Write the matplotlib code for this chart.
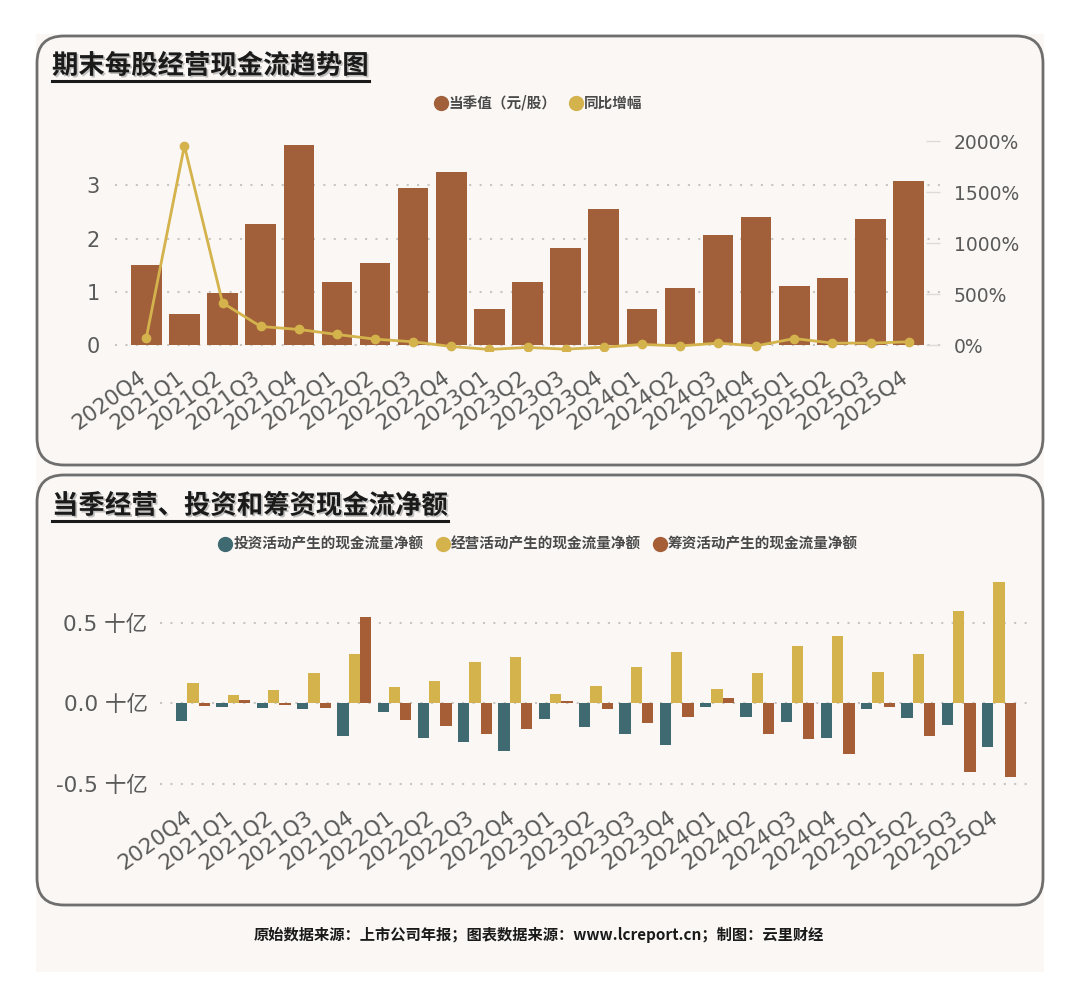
import matplotlib
matplotlib.use("Agg")
import matplotlib.pyplot as plt
import numpy as np
from matplotlib.patches import FancyBboxPatch, Rectangle
from matplotlib.lines import Line2D
import matplotlib.patheffects as pe
import matplotlib.transforms as mtransforms

plt.rcParams['font.family'] = ['DejaVu Sans', 'Noto Sans CJK SC']

quarters = ['2020Q4', '2021Q1', '2021Q2', '2021Q3', '2021Q4', '2022Q1', '2022Q2',
            '2022Q3', '2022Q4', '2023Q1', '2023Q2', '2023Q3', '2023Q4', '2024Q1',
            '2024Q2', '2024Q3', '2024Q4', '2025Q1', '2025Q2', '2025Q3', '2025Q4']

eps = [1.50, 0.58, 0.98, 2.28, 3.75, 1.18, 1.54, 2.95, 3.25, 0.68, 1.18,
       1.83, 2.56, 0.68, 1.08, 2.06, 2.40, 1.11, 1.26, 2.36, 3.08]
yoy = [70, 1954, 415, 183, 154, 105, 59, 33, -13, -42, -22,
       -39, -20, 7, -7, 20, -7, 65, 20, 20, 33]

invest = [-0.108, -0.021, -0.031, -0.033, -0.201, -0.056, -0.216, -0.241, -0.297, -0.100, -0.145,
          -0.191, -0.261, -0.025, -0.083, -0.116, -0.216, -0.035, -0.089, -0.133, -0.270]
operate = [0.124, 0.052, 0.083, 0.189, 0.307, 0.104, 0.139, 0.257, 0.288, 0.060, 0.108,
           0.228, 0.320, 0.087, 0.189, 0.357, 0.419, 0.195, 0.307, 0.575, 0.755]
finance = [-0.017, 0.021, -0.008, -0.029, 0.539, -0.104, -0.143, -0.191, -0.160, 0.015, -0.037,
           -0.120, -0.085, 0.031, -0.193, -0.220, -0.317, -0.025, -0.205, -0.429, -0.456]

left_ticks = [0, 1, 2, 3]
right_ticks = [0, 500, 1000, 1500, 2000]
right_labels = ['0%', '500%', '1000%', '1500%', '2000%']
bottom_ticks = [-0.5, 0.0, 0.5]
bottom_labels = ['-0.5 十亿', '0.0 十亿', '0.5 十亿']

title1 = '期末每股经营现金流趋势图'
title2 = '当季经营、投资和筹资现金流净额'
legend1 = ['当季值（元/股）', '同比增幅']
legend2 = ['投资活动产生的现金流量净额', '经营活动产生的现金流量净额', '筹资活动产生的现金流量净额']
footer = '原始数据来源：上市公司年报；图表数据来源：www.lcreport.cn；制图：云里财经'

BROWN = '#A1603A'
YELLOW = '#D4B24C'
TEAL = '#3F6A72'
ORANGE = '#A65E37'
BG = '#FAF7F4'
GRID = '#C9C6C2'
TXT = '#5A5A5A'

W, H = 10.8, 10.07
fig = plt.figure(figsize=(W, H), dpi=100, facecolor='white')

# background region and panels (in inches)
fig.patches.append(Rectangle((0.36, H - 9.72), 10.44 - 0.36, 9.72 - 0.34,
                             transform=fig.dpi_scale_trans, facecolor=BG, edgecolor='none', zorder=-3))
for (y0, y1) in [(0.36, 4.65), (4.75, 9.05)]:
    fig.patches.append(FancyBboxPatch((0.37, H - y1), 10.43 - 0.37, y1 - y0,
                                      boxstyle='round,pad=0,rounding_size=0.27',
                                      transform=fig.dpi_scale_trans, facecolor=BG,
                                      edgecolor='#6E6E6E', linewidth=2, zorder=-2))

x = np.arange(len(quarters))
cjk = ['Noto Sans CJK SC', 'DejaVu Sans']
label_shift = mtransforms.ScaledTranslation(-0.09, 0, fig.dpi_scale_trans)

# ---------- top chart ----------
ax1 = fig.add_axes([115 / 1080, 1 - 350.5 / 1007, 825 / 1080, 209.5 / 1007])
ax1.set_facecolor('none')
ax1.bar(x, eps, width=0.8, color=BROWN, zorder=3)
ax1.set_xlim(-0.82, len(quarters) - 1 + 0.82)
ax1.set_ylim(-0.1, 3.83)
ax1.set_yticks(left_ticks)
ax1.set_yticklabels([str(t) for t in left_ticks])
ax1.grid(axis='y', color=GRID, linestyle=(0, (1, 4)), linewidth=1.5, zorder=0)
ax1.set_xticks(x)
ax1.set_xticklabels(quarters, rotation=36, ha='right', va='top', rotation_mode='anchor')
ax1.tick_params(axis='both', length=0, labelcolor=TXT)
ax1.tick_params(axis='y', pad=11, labelsize=15)
ax1.tick_params(axis='x', pad=11.5, labelsize=15.5)
for lab in ax1.get_xticklabels():
    lab.set_transform(lab.get_transform() + label_shift)
for s in ax1.spines.values():
    s.set_visible(False)

ax2 = ax1.twinx()
ax2.plot(x, yoy, color=YELLOW, linewidth=2, marker='o', markersize=6, zorder=4)
ax2.set_ylim(-0.1 / 3.83 * 2000, 2000)
ax2.set_yticks(right_ticks)
ax2.set_yticklabels(right_labels)
ax2.tick_params(axis='y', direction='in', length=10, width=1.0, color='#DEDAD6',
                labelsize=13.5, labelcolor=TXT, pad=10)
for s in ax2.spines.values():
    s.set_visible(False)

# ---------- bottom chart ----------
ax3 = fig.add_axes([160 / 1080, 1 - 791.7 / 1007, 870 / 1080, 217 / 1007])
ax3.set_facecolor('none')
bw = 0.28
ax3.bar(x - bw, invest, width=bw, color=TEAL, zorder=3)
ax3.bar(x, operate, width=bw, color=YELLOW, zorder=3)
ax3.bar(x + bw, finance, width=bw, color=ORANGE, zorder=3)
ax3.set_xlim(-0.82, len(quarters) - 1 + 0.77)
ax3.set_ylim(-0.55, 0.8)
ax3.set_yticks(bottom_ticks)
ax3.set_yticklabels(bottom_labels)
ax3.grid(axis='y', color=GRID, linestyle=(0, (1, 4)), linewidth=1.5, zorder=0)
ax3.set_xticks(x)
ax3.set_xticklabels(quarters, rotation=36, ha='right', va='top', rotation_mode='anchor')
ax3.tick_params(axis='both', length=0, labelcolor=TXT)
ax3.tick_params(axis='y', pad=9, labelsize=15.5)
ax3.tick_params(axis='x', pad=11, labelsize=15.5)
for lab in ax3.get_xticklabels():
    lab.set_transform(lab.get_transform() + label_shift)
for s in ax3.spines.values():
    s.set_visible(False)

# ---------- titles ----------
titles = []
for t, ypix in [(title1, 66), (title2, 506)]:
    tt = fig.text(52 / 1080, 1 - ypix / 1007, t, fontsize=19, fontweight='heavy',
                  family=cjk, color='#1A1A1A', ha='left', va='center',
                  path_effects=[pe.withSimplePatchShadow(offset=(1.2, -1.2), shadow_rgbFace='#888888', alpha=0.5)])
    titles.append(tt)

# ---------- legends ----------
h1 = [Line2D([], [], linestyle='none', marker='o', markersize=10, color=BROWN),
      Line2D([], [], linestyle='none', marker='o', markersize=10, color=YELLOW)]
fig.legend(h1, legend1, loc='center', bbox_to_anchor=(538 / 1080, 1 - 103 / 1007),
           ncol=2, frameon=False, handletextpad=0.05, columnspacing=0.8, handlelength=1.0,
           prop={'family': cjk, 'size': 10.5, 'weight': 'bold'}, labelcolor='#4A4A4A')
h2 = [Line2D([], [], linestyle='none', marker='o', markersize=10, color=c) for c in (TEAL, YELLOW, ORANGE)]
fig.legend(h2, legend2, loc='center', bbox_to_anchor=(538 / 1080, 1 - 544 / 1007),
           ncol=3, frameon=False, handletextpad=0.05, columnspacing=0.8, handlelength=1.0,
           prop={'family': cjk, 'size': 10.5, 'weight': 'bold'}, labelcolor='#4A4A4A')

# ---------- footer ----------
fig.text(539 / 1080, 1 - 935 / 1007, footer, fontsize=11, fontweight='bold', family=cjk,
         color='#1A1A1A', ha='center', va='center')

# underline titles
fig.canvas.draw()
r = fig.canvas.get_renderer()
for tt in titles:
    bb = tt.get_window_extent(r)
    x0, x1 = bb.x0 / fig.bbox.width, bb.x1 / fig.bbox.width
    yy = (bb.y0 - 1) / fig.bbox.height
    fig.add_artist(Line2D([x0, x1], [yy, yy], transform=fig.transFigure, color='#1A1A1A', linewidth=2.2))

fig.savefig('out.png', dpi=100, facecolor='white')
